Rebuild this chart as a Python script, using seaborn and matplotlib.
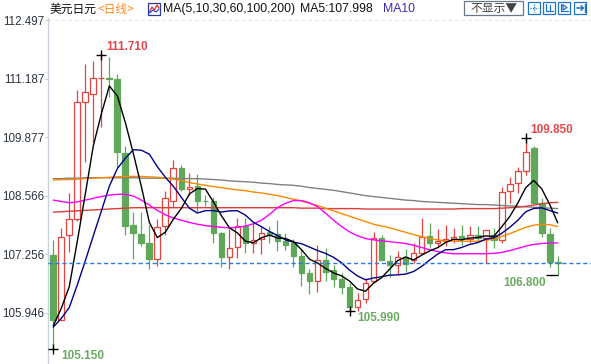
import numpy as np
import pandas as pd
import matplotlib
matplotlib.use("Agg")
import matplotlib.pyplot as plt
import seaborn as sns
from matplotlib.patches import Rectangle
from matplotlib.lines import Line2D

sns.set_theme(style="white")
plt.rcParams['font.family'] = ['Liberation Sans', 'Noto Sans CJK SC', 'DejaVu Sans']

# ---------------- data ----------------
opens = [107.24, 105.80, 107.69, 108.04, 110.67, 110.84, 111.19, 111.20, 111.17, 109.53,
         107.91, 107.71, 107.52, 107.15, 107.89, 108.46, 109.18, 108.72, 108.78, 108.46,
         108.45, 107.74, 107.19, 107.43, 107.89, 107.52, 107.59, 107.76, 107.71, 107.56,
         107.52, 107.22, 106.85, 106.67, 107.13, 106.91, 106.71, 106.52, 106.09, 106.25,
         106.65, 107.62, 107.11, 107.02, 107.20, 107.13, 107.29, 107.66, 107.50, 107.55,
         107.59, 107.66, 107.59, 107.69, 107.62, 107.69, 107.58, 108.67, 108.86, 109.13,
         109.63, 108.40, 107.71, 107.09]
highs = [107.58, 107.84, 108.62, 110.93, 111.51, 111.58, 111.71, 111.66, 111.29, 109.68,
         108.21, 108.20, 107.91, 108.05, 108.68, 109.37, 109.25, 109.07, 109.05, 108.58,
         108.53, 107.76, 107.82, 108.06, 108.06, 107.95, 107.86, 107.88, 108.03, 107.74,
         107.59, 107.35, 106.92, 107.47, 107.39, 107.02, 106.85, 106.61, 106.39, 106.72,
         107.75, 107.69, 107.24, 107.34, 107.37, 107.52, 108.06, 107.95, 107.82, 107.91,
         107.84, 107.91, 107.88, 107.88, 107.80, 107.84, 108.77, 108.99, 109.20, 109.85,
         109.68, 108.51, 107.84, 107.22]
lows = [105.15, 105.78, 107.30, 108.00, 109.33, 109.76, 110.10, 110.77, 109.20, 107.70,
        107.15, 107.45, 106.92, 106.99, 107.69, 108.31, 108.68, 108.58, 108.21, 108.34,
        107.50, 106.97, 106.92, 107.17, 107.29, 107.29, 107.26, 107.52, 107.34, 107.35,
        106.98, 106.55, 106.36, 106.42, 106.65, 106.52, 106.37, 105.99, 106.00, 106.18,
        106.61, 107.12, 106.74, 106.80, 106.87, 107.06, 107.28, 107.43, 107.43, 107.45,
        107.52, 107.47, 107.52, 107.55, 107.06, 107.39, 107.50, 108.40, 108.62, 109.03,
        108.40, 107.65, 106.98, 106.80]
closes = [105.80, 107.65, 108.04, 110.66, 110.88, 111.19, 111.21, 111.17, 109.55, 107.90,
          107.73, 107.52, 107.15, 107.86, 108.51, 109.18, 108.72, 108.77, 108.46, 108.45,
          107.74, 107.19, 107.41, 107.89, 107.52, 107.58, 107.74, 107.71, 107.56, 107.47,
          107.22, 106.85, 106.65, 107.13, 106.87, 106.71, 106.52, 106.07, 106.24, 106.62,
          107.62, 107.12, 107.02, 107.20, 107.03, 107.29, 107.65, 107.50, 107.56, 107.61,
          107.65, 107.59, 107.69, 107.62, 107.80, 107.58, 108.66, 108.84, 109.11, 109.54,
          108.40, 107.73, 107.09, 107.06]
# closes before the visible window (estimated, needed for MA5 / MA10)
prior_closes = [105.70, 105.60, 105.60, 105.50, 105.60, 105.70, 105.60, 105.60, 105.60]

ma30 = [108.47, 108.44, 108.41, 108.43, 108.47, 108.51, 108.55, 108.58, 108.60, 108.60,
        108.56, 108.47, 108.36, 108.24, 108.14, 108.07, 108.02, 107.97, 107.93, 107.90,
        107.88, 107.86, 107.85, 107.86, 107.89, 107.94, 108.02, 108.15, 108.30, 108.40,
        108.46, 108.46, 108.41, 108.32, 108.18, 108.02, 107.88, 107.76, 107.67, 107.61,
        107.58, 107.56, 107.54, 107.52, 107.50, 107.46, 107.41, 107.36, 107.32, 107.29,
        107.27, 107.27, 107.27, 107.27, 107.27, 107.28, 107.30, 107.34, 107.39, 107.44,
        107.48, 107.50, 107.51, 107.51]
ma60 = [108.92, 108.93, 108.93, 108.94, 108.95, 108.96, 108.97, 108.98, 108.99, 109.00,
        109.00, 109.00, 108.99, 108.98, 108.96, 108.94, 108.91, 108.86, 108.83, 108.80,
        108.77, 108.75, 108.72, 108.70, 108.68, 108.65, 108.63, 108.60, 108.57, 108.53,
        108.49, 108.45, 108.40, 108.35, 108.29, 108.23, 108.17, 108.11, 108.05, 107.99,
        107.93, 107.89, 107.85, 107.80, 107.75, 107.70, 107.65, 107.61, 107.58, 107.56,
        107.55, 107.55, 107.55, 107.55, 107.57, 107.60, 107.66, 107.72, 107.79, 107.86,
        107.91, 107.93, 107.92, 107.88]
ma100 = [108.20, 108.21, 108.22, 108.23, 108.24, 108.25, 108.26, 108.27, 108.28, 108.29,
         108.30, 108.30, 108.30, 108.30, 108.30, 108.30, 108.30, 108.30, 108.30, 108.30,
         108.30, 108.30, 108.30, 108.30, 108.30, 108.30, 108.30, 108.30, 108.30, 108.30,
         108.30, 108.29, 108.29, 108.29, 108.28, 108.28, 108.28, 108.28, 108.28, 108.27,
         108.27, 108.27, 108.27, 108.27, 108.27, 108.27, 108.27, 108.27, 108.27, 108.27,
         108.27, 108.28, 108.28, 108.28, 108.28, 108.28, 108.29, 108.30, 108.31, 108.33,
         108.36, 108.39, 108.41, 108.42]
ma200 = [108.95, 108.95, 108.96, 108.96, 108.97, 108.97, 108.97, 108.97, 108.97, 108.97,
         108.97, 108.96, 108.96, 108.96, 108.96, 108.96, 108.95, 108.95, 108.95, 108.94,
         108.93, 108.92, 108.90, 108.89, 108.88, 108.87, 108.85, 108.84, 108.82, 108.81,
         108.80, 108.78, 108.75, 108.73, 108.71, 108.69, 108.66, 108.63, 108.60, 108.57,
         108.55, 108.53, 108.51, 108.49, 108.47, 108.46, 108.44, 108.43, 108.42, 108.41,
         108.40, 108.39, 108.38, 108.37, 108.37, 108.36, 108.35, 108.34, 108.33, 108.32,
         108.31, 108.30, 108.29, 108.28]

tick_values = [112.497, 111.187, 109.877, 108.566, 107.256, 105.946]
tick_labels = ["112.497", "111.187", "109.877", "108.566", "107.256", "105.946"]

# extremes marked on the chart: (candle index, value, text, kind)
marks = [(6, 111.71, "111.710", "high"), (0, 105.15, "105.150", "low"),
         (37, 105.99, "105.990", "low"), (59, 109.85, "109.850", "high"),
         (63, 106.80, "106.800", "lastlow")]

# ---------------- figure ----------------
W, H = 591, 364
fig = plt.figure(figsize=(W / 100, H / 100), dpi=100)
fig.patch.set_facecolor("white")
ax = fig.add_axes([48 / W, 0, 543 / W, 346 / H])
ax.set_facecolor("white")

RED = "#e5433f"
GREEN = "#5fa85a"
n = len(closes)
idx = np.arange(n)
o = np.array(opens); c = np.array(closes); h = np.array(highs); l = np.array(lows)
up = c >= o
body_lo = np.minimum(o, c); body_hi = np.maximum(o, c)
colors = np.where(up, RED, GREEN)

# wicks
ax.vlines(idx, l, body_lo, colors=colors, linewidth=0.9, zorder=2)
ax.vlines(idx, body_hi, h, colors=colors, linewidth=0.9, zorder=2)
# bodies
heights = np.maximum(body_hi - body_lo, 0.004)
ax.bar(idx, heights, bottom=body_lo, width=0.72,
       color=np.where(up, "white", GREEN), edgecolor=colors, linewidth=0.9, zorder=3)

# moving averages
full = pd.Series(prior_closes + closes)
ma5 = full.rolling(5).mean().iloc[len(prior_closes):].to_numpy()
ma10 = full.rolling(10).mean().iloc[len(prior_closes):].to_numpy()
df = pd.concat([
    pd.DataFrame({"i": idx, "v": ma200, "ma": "MA200"}),
    pd.DataFrame({"i": idx, "v": ma100, "ma": "MA100"}),
    pd.DataFrame({"i": idx, "v": ma60, "ma": "MA60"}),
    pd.DataFrame({"i": idx, "v": ma30, "ma": "MA30"}),
    pd.DataFrame({"i": idx, "v": ma10, "ma": "MA10"}),
    pd.DataFrame({"i": idx, "v": ma5, "ma": "MA5"}),
])
palette = {"MA5": "#000000", "MA10": "#00008b", "MA30": "#ff00ff",
           "MA60": "#ff8800", "MA100": "#dd3b3b", "MA200": "#808080"}
sns.lineplot(data=df, x="i", y="v", hue="ma", palette=palette, legend=False,
             ax=ax, linewidth=1.0, zorder=4, sort=False)

# current price dashed line
ax.axhline(closes[-1], color="#2b7be0", linestyle=(0, (3, 2)), linewidth=1.0, zorder=5)
# top grid line
ax.axhline(tick_values[0], color="#dfe5ec", linestyle=(0, (3, 3)), linewidth=0.8, zorder=1)

# extreme markers + labels
for i, v, txt, kind in marks:
    if kind == "lastlow":
        ax.hlines(v, i - 1.45, i, color="black", linewidth=1.0, zorder=6)
        ax.annotate(txt, xy=(i, v), xytext=(-12, -8), textcoords="offset pixels",
                    ha="right", va="center", fontsize=8.5, fontweight="bold", color="#6aab62")
    else:
        ax.plot([i], [v], marker="+", color="black", markersize=7, mew=1.0, zorder=6)
        if kind == "high":
            ax.annotate(txt, xy=(i, v), xytext=(5, 8), textcoords="offset pixels",
                        ha="left", va="center", fontsize=8.5, fontweight="bold", color="#e5474f")
        else:
            ax.annotate(txt, xy=(i, v), xytext=(8, -7), textcoords="offset pixels",
                        ha="left", va="center", fontsize=8.5, fontweight="bold", color="#6aab62")

# axes limits / ticks
ax.set_xlim(-0.66, 67.16)
ax.set_ylim(104.805, 112.542)
ax.set_xticks([])
ax.set_yticks(tick_values, labels=tick_labels)
ax.tick_params(axis="y", direction="out", length=2.2, width=0.8, color="#c2cdd8",
               labelsize=8.4, labelcolor="#2b3440", pad=0.6, left=True)
for s in ["top", "right", "bottom"]:
    ax.spines[s].set_visible(False)
ax.spines["left"].set_color("#c8d3de")
ax.spines["left"].set_linewidth(1.0)
ax.set_xlabel(""); ax.set_ylabel("")

# ---------------- header ----------------
def fx(x): return x / W
def fy(y): return 1 - y / H

fig.text(fx(50), fy(9), "美元日元", fontsize=8.5, color="#111111",
         family=["Noto Sans CJK SC", "DejaVu Sans"], ha="left", va="center")
fig.text(fx(97), fy(9), "<日线>", fontsize=8.5, color="#ff8a1c",
         family=["Noto Sans CJK SC", "DejaVu Sans"], ha="left", va="center")
# small chart icon
fig.add_artist(Rectangle((fx(148), fy(15)), 12 / W, 12 / H, transform=fig.transFigure,
                         facecolor="white", edgecolor="#2a3aa0", linewidth=0.9))
fig.add_artist(Line2D([fx(149.5), fx(152), fx(154.5), fx(157), fx(159)],
                      [fy(12), fy(7), fy(10), fy(5), fy(8)], transform=fig.transFigure,
                      color="#e03030", linewidth=0.9))
fig.add_artist(Line2D([fx(149.5), fx(153), fx(156), fx(159)],
                      [fy(13), fy(10), fy(12), fy(9)], transform=fig.transFigure,
                      color="#2040c0", linewidth=0.8))
fig.text(fx(163), fy(9), "MA(5,10,30,60,100,200)", fontsize=8.8, color="#111111",
         ha="left", va="center")
fig.text(fx(300), fy(9), "MA5:107.998", fontsize=8.8, color="#111111",
         ha="left", va="center")
fig.text(fx(383), fy(9), "MA10", fontsize=8.8, color="#3b2db0",
         ha="left", va="center")
# dropdown box
fig.add_artist(Rectangle((fx(464), fy(15)), 59 / W, 14 / H, transform=fig.transFigure,
                         facecolor="white", edgecolor="#6a7888", linewidth=0.9))
fig.text(fx(493.5), fy(8.3), "不显示▼", fontsize=8.5, color="#444444",
         family=["Noto Sans CJK SC", "DejaVu Sans"], ha="center", va="center")
# tool icons
for k, x0 in enumerate([528, 543, 558, 574]):
    fig.add_artist(Rectangle((fx(x0), fy(14)), 12 / W, 12 / H, transform=fig.transFigure,
                             facecolor="white", edgecolor="#1f74c8", linewidth=0.9))
    cx = x0 + 6
    if k == 0:
        fig.add_artist(Line2D([fx(cx), fx(cx)], [fy(4), fy(12)], transform=fig.transFigure,
                              color="#1f74c8", linewidth=0.9, linestyle=(0, (1, 1))))
        fig.add_artist(Line2D([fx(x0 + 2), fx(x0 + 10)], [fy(8), fy(8)], transform=fig.transFigure,
                              color="#1f74c8", linewidth=0.9, linestyle=(0, (1, 1))))
    elif k == 1:
        fig.add_artist(Line2D([fx(x0 + 3), fx(x0 + 3), fx(x0 + 10)], [fy(4), fy(11), fy(11)],
                              transform=fig.transFigure, color="#1f74c8", linewidth=0.9))
        fig.add_artist(Line2D([fx(x0 + 7), fx(x0 + 7)], [fy(5), fy(10)],
                              transform=fig.transFigure, color="#1f74c8", linewidth=0.9))
    elif k == 2:
        fig.add_artist(Line2D([fx(x0 + 3), fx(x0 + 3), fx(x0 + 10)], [fy(4), fy(11), fy(11)],
                              transform=fig.transFigure, color="#1f74c8", linewidth=0.9))
        fig.add_artist(Line2D([fx(x0 + 5), fx(x0 + 9), fx(x0 + 5), fx(x0 + 5)],
                              [fy(5), fy(7.5), fy(10), fy(5)],
                              transform=fig.transFigure, color="#1f74c8", linewidth=0.9))
    else:
        fig.add_artist(Line2D([fx(x0 + 3), fx(x0 + 9)], [fy(8), fy(8)],
                              transform=fig.transFigure, color="#1f74c8", linewidth=1.2))
        fig.add_artist(Line2D([fx(x0 + 7), fx(x0 + 9.5), fx(x0 + 7)], [fy(5.5), fy(8), fy(10.5)],
                              transform=fig.transFigure, color="#1f74c8", linewidth=1.0))
        fig.add_artist(Line2D([fx(x0 + 10.5), fx(x0 + 10.5)], [fy(4), fy(12)],
                              transform=fig.transFigure, color="#1f74c8", linewidth=1.0))

fig.savefig("out.png", dpi=100, facecolor="white")
